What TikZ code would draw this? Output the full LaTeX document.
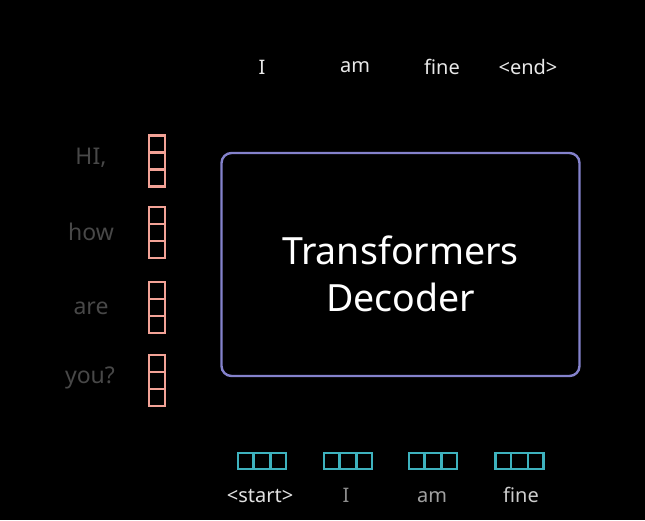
\documentclass[tikz,border=0pt]{standalone}
\usepackage{fontspec}
\setmainfont{Noto Sans}
\usepackage{color}
\definecolor{mysalmon}{RGB}{242,162,150}
\definecolor{myteal}{RGB}{62,178,190}
\definecolor{mypurple}{RGB}{132,130,204}
\definecolor{mylight}{RGB}{232,232,232}
\definecolor{mydim}{RGB}{72,72,72}
\usetikzlibrary{shapes.multipart,positioning}
\newcommand{\vcell}{\rule{0pt}{14.5pt}}
\newcommand{\hcell}{\rule{0pt}{15.5pt}}

\begin{document}
\begin{tikzpicture}[
  x=1pt, y=-1pt,
  myvert/.style={
    draw=mysalmon,
    line width=2.4pt,
    rectangle split,
    rectangle split parts=3,
    inner sep=0pt,
    text width=15.5pt
    },
  myhoriz/.style={
    draw=myteal,
    line width=2.4pt,
    rectangle split,
    rectangle split horizontal,
    rectangle split parts=3,
    inner sep=0pt,
    text width=14.5pt
    },
  myword/.style={text=mydim, font=\fontsize{23}{26}\selectfont},
  mytok/.style={text=mylight, font=\fontsize{20}{23}\selectfont},
  mybox/.style={
    draw=mypurple,
    line width=2.4pt,
    rounded corners=10pt,
    minimum width=358pt,
    minimum height=223pt
    }
]
\fill[black] (0,0) rectangle (645,520);
\useasboundingbox (0,0) rectangle (645,520);

% decoder block
\node [mybox] (dec) at (400.5,264.5) {};
\node [text=white, align=center, font=\fontsize{37.5}{47}\selectfont] (title) at (400.5,274) {Transformers\\Decoder};

% encoder side
\node [myword] (w1) at (91,158) {HI,};
\node [myword] (w2) at (91,232) {how};
\node [myword] (w3) at (91,308) {are};
\node [myword] (w4) at (90,378) {you?};
\node [myvert] (e1) at (157,161) {\vcell\nodepart{two}\vcell\nodepart{three}\vcell};
\node [myvert] (e2) at (157,232.5) {\vcell\nodepart{two}\vcell\nodepart{three}\vcell};
\node [myvert] (e3) at (157,307.5) {\vcell\nodepart{two}\vcell\nodepart{three}\vcell};
\node [myvert] (e4) at (157,380.5) {\vcell\nodepart{two}\vcell\nodepart{three}\vcell};

% outputs
\node [mytok] (o1) at (262,67) {I};
\node [mytok] (o2) at (355,67) {am};
\node [mytok] (o3) at (442,67) {fine};
\node [mytok] (o4) at (528,67) {<end>};

% shifted inputs
\node [myhoriz] (d1) at (262,461) {\hcell\nodepart{two}\hcell\nodepart{three}\hcell};
\node [myhoriz] (d2) at (348,461) {\hcell\nodepart{two}\hcell\nodepart{three}\hcell};
\node [myhoriz] (d3) at (433,461) {\hcell\nodepart{two}\hcell\nodepart{three}\hcell};
\node [myhoriz] (d4) at (519.5,461) {\hcell\nodepart{two}\hcell\nodepart{three}\hcell};
\node [mytok, text={rgb,255:red,226;green,226;blue,226}, anchor=base] (i1) at (260,502) {<start>};
\node [mytok, text={rgb,255:red,140;green,140;blue,140}, anchor=base] (i2) at (346,502) {I};
\node [mytok, text={rgb,255:red,160;green,160;blue,160}, anchor=base] (i3) at (432,502) {am};
\node [mytok, text={rgb,255:red,205;green,205;blue,205}, anchor=base] (i4) at (521,502) {fine};
\end{tikzpicture}
\end{document}
